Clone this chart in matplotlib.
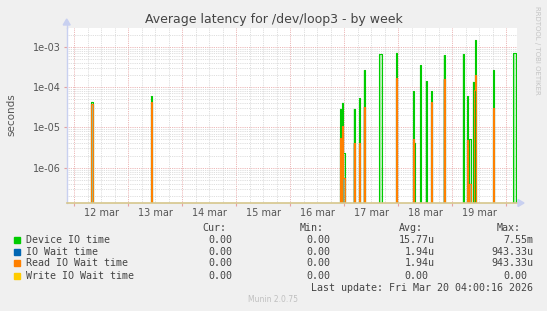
import numpy as np
import matplotlib
matplotlib.use("Agg")
import matplotlib.pyplot as plt
from matplotlib.patches import Rectangle
from matplotlib.ticker import FixedLocator, NullFormatter

# ---------------- data (time in days since 12 mar 00:00) ----------------
day_labels = ["12 mar", "13 mar", "14 mar", "15 mar", "16 mar", "17 mar", "18 mar", "19 mar"]
ytick_vals = [1e-6, 1e-5, 1e-4, 1e-3]
ytick_labels = ["1e-06", "1e-05", "1e-04", "1e-03"]

device_t = [0.31, 1.42, 4.92, 4.96, 4.99, 5.18, 5.27, 5.35, 5.645, 5.665, 5.96,
            6.27, 6.30, 6.41, 6.50, 6.61, 6.83, 7.20, 7.28, 7.31, 7.39, 7.42,
            7.76, 8.13, 8.15]
device_v = [4.3e-5, 6.0e-5, 2.9e-5, 4.1e-5, 2.3e-6, 2.9e-5, 5.2e-5, 2.6e-4, 6.6e-4,
            6.6e-4, 7.1e-4, 7.9e-5, 4.2e-6, 3.5e-4, 1.4e-4, 7.9e-5, 6.2e-4, 6.6e-4,
            6.0e-5, 5.1e-6, 1.35e-4, 1.47e-3, 2.6e-4, 6.8e-4, 6.8e-4]

read_t = [0.31, 1.42, 4.93, 4.955, 4.98, 5.18, 5.27, 5.35, 5.96, 6.28, 6.61, 6.83,
          7.285, 7.31, 7.40, 7.42, 7.76]
read_v = [3.8e-5, 4.3e-5, 5.4e-6, 1.05e-5, 5.4e-7, 4.0e-6, 4.0e-6, 3.2e-5, 1.7e-4,
          5.1e-6, 4.3e-5, 1.55e-4, 4.8e-6, 4.0e-7, 8.4e-5, 2.0e-4, 3.1e-5]

iowait_t = list(read_t)
iowait_v = list(read_v)

write_t = []
write_v = []

legend_names = ["Device IO time", "IO Wait time", "Read IO Wait time", "Write IO Wait time"]
legend_colors = ["#00cc00", "#0066b3", "#ff8000", "#ffcc00"]
cur_vals = ["0.00", "0.00", "0.00", "0.00"]
min_vals = ["0.00", "0.00", "0.00", "0.00"]
avg_vals = ["15.77u", "1.94u", "1.94u", "0.00"]
max_vals = ["7.55m", "943.33u", "943.33u", "0.00"]

# ---------------- layout ----------------
W, H = 547, 311
fig = plt.figure(figsize=(W / 100, H / 100), dpi=100, facecolor="#f0f0f0")

def fx(x):
    return x / W

def fy(y):
    return 1 - y / H

x0, x1, y0, y1 = 66.7, 516.7, 28.0, 203.0
ax = fig.add_axes([fx(x0), fy(y1), fx(x1) - fx(x0), fy(y0) - fy(y1)])
ax.set_facecolor("white")

xmin, xmax = -0.141, 8.193
ymin, ymax = 1.33e-7, 2.91e-3
ax.set_yscale("log")
ax.set_xlim(xmin, xmax)
ax.set_ylim(ymin, ymax)

step = 1.0 / 48.0
grid_t = np.arange(xmin, xmax + step, step)
FLOOR = 1e-12

def build(ts, vs):
    y = np.full(grid_t.shape, FLOOR)
    for t, v in zip(ts, vs):
        i = int(round((t - xmin) / step))
        y[i] = v
    return y

series = [(device_t, device_v), (iowait_t, iowait_v), (read_t, read_v), (write_t, write_v)]
for (ts, vs), col in zip(series, legend_colors):
    y = build(ts, vs)
    ax.fill_between(grid_t, FLOOR, y, step="post", color=col, alpha=0.35, lw=0, zorder=3)
    ax.plot(grid_t, y, drawstyle="steps-post", color=col, lw=0.8, zorder=4)

# baseline (zero values clipped at the bottom)
ax.axhline(ymin, color="#d6c68c", lw=1.2, zorder=5, clip_on=False)

# grid
dash = (0, (1, 1.2))
ax.xaxis.set_major_locator(FixedLocator(np.arange(0, 9)))
ax.xaxis.set_minor_locator(FixedLocator(np.arange(-0.25, 8.25, 0.25)))
ax.yaxis.set_major_locator(FixedLocator(ytick_vals))
minors = [m * 10.0 ** e for e in range(-7, -2) for m in range(2, 10)]
ax.yaxis.set_minor_locator(FixedLocator(minors))
ax.grid(which="minor", color="#d4d4d4", lw=0.6, linestyle=dash, zorder=1)
ax.grid(which="major", color="#e6a0a0", lw=0.6, linestyle=dash, zorder=2)
ax.set_axisbelow(True)

ax.set_yticklabels(ytick_labels)
ax.yaxis.set_minor_formatter(NullFormatter())
ax.set_xticklabels([])
ax.tick_params(axis="y", which="major", length=2, color="#e6a0a0", labelsize=7,
               labelcolor="#555555", pad=2)
ax.tick_params(axis="y", which="minor", length=0)
ax.tick_params(axis="x", which="major", length=2, color="#e6a0a0", pad=2)
ax.tick_params(axis="x", which="minor", length=0)

for i, lab in enumerate(day_labels):
    ax.text(i + 0.5, fy(213) , lab, transform=ax.get_xaxis_transform() if False else
            matplotlib.transforms.blended_transform_factory(ax.transData, fig.transFigure),
            ha="center", va="center", fontsize=7, color="#555555")

for s in ["top", "right", "bottom"]:
    ax.spines[s].set_visible(False)
ax.spines["left"].set_color("#c8d0f0")
ax.spines["left"].set_linewidth(1.0)

# axis arrows
fig.lines.append(plt.Line2D([fx(x0), fx(x0)], [fy(y0), fy(21)], color="#c8d0f0", lw=1.0,
                            transform=fig.transFigure))
fig.patches.append(plt.Polygon([[fx(x0 - 3.5), fy(25)], [fx(x0 + 3.5), fy(25)], [fx(x0), fy(19)]],
                               closed=True, color="#c8d0f0", transform=fig.transFigure))
fig.patches.append(plt.Polygon([[fx(518), fy(199.5)], [fx(518), fy(206.5)], [fx(524), fy(203)]],
                               closed=True, color="#c8d0f0", transform=fig.transFigure))

# title and labels
fig.text(fx(273.5), fy(20), "Average latency for /dev/loop3 - by week", ha="center",
         va="center", fontsize=9, color="#444444")
fig.text(fx(11), fy(115), "seconds", rotation=90, ha="center", va="center",
         fontsize=7.5, color="#555555")
fig.text(fx(537.5), fy(6), "RRDTOOL / TOBI OETIKER", rotation=270, ha="center", va="top",
         fontsize=5, color="#c4c4c4")

# legend
mono = "DejaVu Sans Mono"
lfs = 7.2
cw = 5.98
hdr_y = 228.3
row_y = [239.7, 251.7, 263.3, 275.7]
slot_right = [238.0, 336.0, 434.4, 533.0]
headers = ["Cur:", "Min:", "Avg:", "Max:"]
for h, r in zip(headers, slot_right):
    fig.text(fx(r - 2 * cw), fy(hdr_y), h, ha="right", va="center", family=mono,
             fontsize=lfs, color="#444444")
for k, yy in enumerate(row_y):
    fig.patches.append(Rectangle((fx(14), fy(yy + 3)), fx(6), 6 / H, color=legend_colors[k],
                                 transform=fig.transFigure))
    fig.text(fx(26), fy(yy), legend_names[k], ha="left", va="center", family=mono,
             fontsize=lfs, color="#444444")
    for vals, r in zip([cur_vals, min_vals, avg_vals, max_vals], slot_right):
        v = vals[k]
        rr = r if v[-1] in "um" else r - cw
        fig.text(fx(rr), fy(yy), v, ha="right", va="center", family=mono,
                 fontsize=lfs, color="#444444")
fig.text(fx(533), fy(287.7), "Last update: Fri Mar 20 04:00:16 2026", ha="right",
         va="center", family=mono, fontsize=lfs, color="#444444")
fig.text(fx(273), fy(300), "Munin 2.0.75", ha="center", va="center", fontsize=5.5,
         color="#c0c0c0")

fig.savefig("out.png", dpi=100, facecolor=fig.get_facecolor())
